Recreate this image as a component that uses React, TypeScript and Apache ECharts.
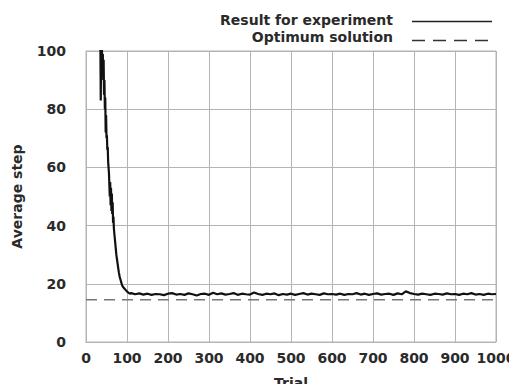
import React, { useEffect, useRef } from "react";
import * as echarts from "echarts";

// Learning curve: early (steep) part, [trial, average step]
const earlyTrials = [35, 36, 37, 39, 40, 41, 42, 43, 44, 45, 46, 47, 48, 49, 50, 51, 52, 53, 54, 55, 56, 57, 58, 59, 60, 61, 62, 63, 64, 65, 66, 67, 68, 70, 72, 74, 76, 78, 80, 82, 84, 86, 88, 90, 93, 96, 99, 103, 107];
const earlySteps = [104, 83, 102, 100, 95, 99, 90, 97, 85, 90, 80, 84, 72, 78, 70, 71, 66, 67, 62, 60, 58, 54, 50, 55, 47, 53, 45, 51, 44, 48, 41, 43, 39, 36, 33, 30, 28, 26, 24, 22.5, 21.5, 20.5, 19.5, 19, 18.5, 18, 17.5, 17, 16.6];

// Plateau part, sampled every 10 trials from 110 to 1000
const plateauStart = 110;
const plateauStep = 10;
const plateauSteps = [
  16.8, 16.4, 16.7, 16.3, 16.6, 16.2, 16.5, 16.4, 16.1, 16.6,
  16.8, 16.3, 16.5, 16.2, 16.7, 16.4, 16.0, 16.5, 16.6, 16.2,
  16.9, 16.4, 16.7, 16.3, 16.5, 16.8, 16.2, 16.6, 16.4, 16.3,
  17.0, 16.5, 16.2, 16.6, 16.4, 16.7, 16.1, 16.5, 16.3, 16.6,
  16.2, 16.5, 16.8, 16.3, 16.6, 16.4, 16.2, 16.7, 16.4, 16.5,
  16.3, 16.6, 16.2, 16.5, 16.4, 16.8, 16.3, 16.6, 16.2, 16.5,
  16.7, 16.3, 16.5, 16.6, 16.2, 16.7, 16.4, 17.4, 16.8, 16.5,
  16.3, 16.6, 16.4, 16.2, 16.6, 16.5, 16.3, 16.7, 16.4, 16.5,
  16.2, 16.6, 16.4, 16.8, 16.3, 16.5, 16.2, 16.6, 16.4, 16.5,
];

const optimumValue = 14.5;
const optimumTrials = [0, 1000];

const xTicks = [0, 100, 200, 300, 400, 500, 600, 700, 800, 900, 1000];
const yTicks = [0, 20, 40, 60, 80, 100];

const seriesNames = ["Result for experiment", "Optimum solution"];

const FONT = "DejaVu Sans";

export default function App() {
  const ref = useRef<HTMLDivElement>(null);

  useEffect(() => {
    if (!ref.current) return;
    const chart = echarts.init(ref.current, null, { renderer: "svg" });

    const resultData: number[][] = [];
    earlyTrials.forEach((t, i) => resultData.push([t, earlySteps[i]]));
    plateauSteps.forEach((v, i) => resultData.push([plateauStart + i * plateauStep, v]));
    const optimumData = optimumTrials.map((t) => [t, optimumValue]);

    const gridColor = "#b4b4b4";
    const textStyle = { fontFamily: FONT, fontSize: 14, fontWeight: "bold" as const, color: "#2a2a2a" };

    chart.setOption({
      animation: false,
      backgroundColor: "#ffffff",
      grid: { left: 86, right: 21, top: 51, bottom: 50, containLabel: false, outerBoundsMode: "none" },
      xAxis: {
        type: "value",
        min: xTicks[0],
        max: xTicks[xTicks.length - 1],
        interval: 100,
        name: "Trial",
        nameLocation: "middle",
        nameGap: 34,
        nameTextStyle: textStyle,
        axisLine: { show: true, lineStyle: { color: gridColor, width: 1 } },
        axisTick: { show: false },
        axisLabel: { ...textStyle, margin: 9, showMaxLabel: true, showMinLabel: true, formatter: (v: number) => String(v) },
        splitLine: { show: true, lineStyle: { color: gridColor, width: 1 } },
      },
      yAxis: {
        type: "value",
        min: yTicks[0],
        max: yTicks[yTicks.length - 1],
        interval: 20,
        name: "Average step",
        nameLocation: "middle",
        nameGap: 62,
        nameRotate: 90,
        nameTextStyle: textStyle,
        axisLine: { show: true, lineStyle: { color: gridColor, width: 1 } },
        axisTick: { show: false },
        axisLabel: { ...textStyle, margin: 20, formatter: (v: number) => String(v) },
        splitLine: { show: true, lineStyle: { color: gridColor, width: 1 } },
      },
      series: [
        {
          name: seriesNames[1],
          type: "line",
          data: optimumData,
          symbol: "none",
          lineStyle: { color: "#777", width: 1.6, type: [11, 7] },
          z: 2,
        },
        {
          name: seriesNames[0],
          type: "line",
          data: resultData,
          symbol: "none",
          clip: true,
          lineStyle: { color: "#111", width: 2.2 },
          z: 3,
        },
      ],
      graphic: [
        {
          type: "rect",
          shape: { x: 86, y: 51, width: 410, height: 291 },
          style: { fill: "none", stroke: gridColor, lineWidth: 1 },
          silent: true,
          z: 1,
        },
        {
          type: "text",
          x: 393,
          y: 20,
          style: { text: seriesNames[0], align: "right", verticalAlign: "middle", fontFamily: FONT, fontSize: 14, fontWeight: "bold", fill: "#2a2a2a" },
        },
        {
          type: "line",
          shape: { x1: 412, y1: 21.5, x2: 492, y2: 21.5 },
          style: { stroke: "#222", lineWidth: 1.6 },
        },
        {
          type: "text",
          x: 393,
          y: 37,
          style: { text: seriesNames[1], align: "right", verticalAlign: "middle", fontFamily: FONT, fontSize: 14, fontWeight: "bold", fill: "#2a2a2a" },
        },
        {
          type: "line",
          shape: { x1: 412, y1: 40.5, x2: 492, y2: 40.5 },
          style: { stroke: "#333", lineWidth: 1.4, lineDash: [13, 8] },
        },
      ],
    });

    return () => chart.dispose();
  }, []);

  return <div ref={ref} style={{ width: 517, height: 392, margin: -8 }} />;
}
